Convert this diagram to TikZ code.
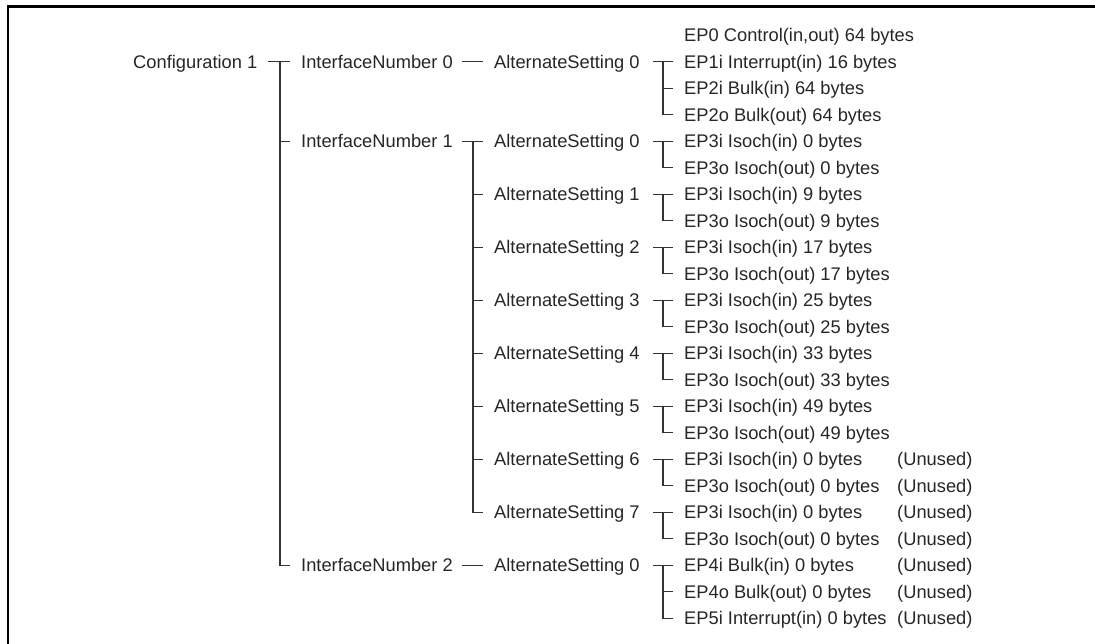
\documentclass[tikz,border=0pt]{standalone}
\usepackage{fontspec}
\setmainfont{Liberation Sans}
\usetikzlibrary{calc}

\begin{document}
\begin{tikzpicture}[
  x=1pt, y=-1pt,
  font=\fontsize{18.3}{22}\selectfont,
  every node/.style={anchor=west, inner sep=0pt, text height=13.1pt,
                     text depth=0pt, text=black!85},
  link/.style={line width=1.3pt, black!80}
]

%% Parameters
\def\T{35.2}  % y of first row
\def\R{26.5}  % row pitch
\def\cA{133}  % x of configuration column
\def\cB{301}  % x of interface column
\def\cC{494}  % x of alternate-setting column
\def\cD{684}  % x of endpoint column
\def\cE{897}  % x of unused column

\useasboundingbox (0,0) rectangle (1095,643);

%% ---- Frame ----
\draw[line width=2.7pt] (8,660) -- (8,6.3) -- (1110,6.3);

%% ---- Bus coordinates ----
\coordinate (busA) at (280,0);
\coordinate (busB) at (473,0);
\coordinate (busC) at (663,0);

%% ---- Configuration and interfaces ----
\node (cfg) at (\cA, \T+1*\R) {Configuration 1};
\node (if0) at (\cB, \T+1*\R) {InterfaceNumber 0};
\node (if1) at (\cB, \T+4*\R) {InterfaceNumber 1};
\node (if2) at (\cB, \T+20*\R) {InterfaceNumber 2};

%% ---- Alternate settings ----
\node (if0s0) at (\cC, \T+1*\R) {AlternateSetting 0};
\foreach \a in {0,...,7}{
  \node (if1s\a) at (\cC, \T+4*\R+2*\a*\R) {AlternateSetting \a};
}
\node (if2s0) at (\cC, \T+20*\R) {AlternateSetting 0};

%% ---- Endpoints ----
\foreach \txt [count=\k from 0] in {
  {EP0 Control(in,out) 64 bytes},
  {EP1i Interrupt(in) 16 bytes},
  {EP2i Bulk(in) 64 bytes},
  {EP2o Bulk(out) 64 bytes},
  {EP3i Isoch(in) 0 bytes},  {EP3o Isoch(out) 0 bytes},
  {EP3i Isoch(in) 9 bytes},  {EP3o Isoch(out) 9 bytes},
  {EP3i Isoch(in) 17 bytes}, {EP3o Isoch(out) 17 bytes},
  {EP3i Isoch(in) 25 bytes}, {EP3o Isoch(out) 25 bytes},
  {EP3i Isoch(in) 33 bytes}, {EP3o Isoch(out) 33 bytes},
  {EP3i Isoch(in) 49 bytes}, {EP3o Isoch(out) 49 bytes},
  {EP3i Isoch(in) 0 bytes},  {EP3o Isoch(out) 0 bytes},
  {EP3i Isoch(in) 0 bytes},  {EP3o Isoch(out) 0 bytes},
  {EP4i Bulk(in) 0 bytes},
  {EP4o Bulk(out) 0 bytes},
  {EP5i Interrupt(in) 0 bytes}}{
  \node (ep\k) at (\cD, \T+\k*\R) {\txt};
}
\foreach \k in {16,...,22}{
  \node (un\k) at (\cE, \T+\k*\R) {(Unused)};
}

%% ---- Configuration bus ----
\draw[link] ($(busA |- cfg.west)+(-12,0)$) -- ([xshift=-11pt]if0.west);
\draw[link] (busA |- if0.west) |- ([xshift=-11pt]if2.west);
\draw[link] (busA |- if1.west) -- ([xshift=-11pt]if1.west);

%% ---- Interface buses ----
\draw[link] ($(busB |- if0.west)+(-11,0)$) -- ([xshift=-11pt]if0s0.west);
\draw[link] ($(busB |- if1.west)+(-11,0)$) -- ([xshift=-11pt]if1s0.west);
\draw[link] (busB |- if1s0.west) |- ([xshift=-11pt]if1s7.west);
\foreach \a in {1,...,6}{
  \draw[link] (busB |- if1s\a.west) -- ([xshift=-11pt]if1s\a.west);
}
\draw[link] ($(busB |- if2.west)+(-11,0)$) -- ([xshift=-11pt]if2s0.west);

%% ---- Endpoint buses ----
\draw[link] ($(busC |- if0s0.west)+(-10,0)$) -- ([xshift=-11pt]ep1.west);
\draw[link] (busC |- ep1.west) |- ([xshift=-11pt]ep3.west);
\draw[link] (busC |- ep2.west) -- ([xshift=-11pt]ep2.west);

\foreach \a [evaluate=\a as \i using int(4+2*\a),
             evaluate=\a as \j using int(5+2*\a)] in {0,...,7}{
  \draw[link] ($(busC |- if1s\a.west)+(-10,0)$) -- ([xshift=-11pt]ep\i.west);
  \draw[link] (busC |- ep\i.west) |- ([xshift=-11pt]ep\j.west);
}

\draw[link] ($(busC |- if2s0.west)+(-10,0)$) -- ([xshift=-11pt]ep20.west);
\draw[link] (busC |- ep20.west) |- ([xshift=-11pt]ep22.west);
\draw[link] (busC |- ep21.west) -- ([xshift=-11pt]ep21.west);

\end{tikzpicture}
\end{document}
